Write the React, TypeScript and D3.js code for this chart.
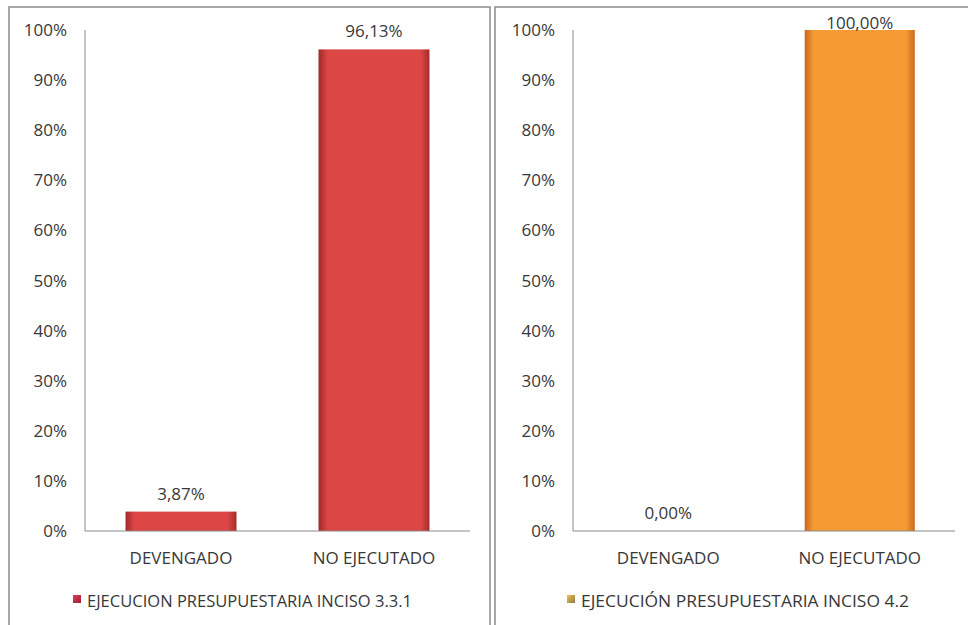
import React, { useEffect, useRef } from 'react';
import * as d3 from 'd3';

const categories = ['DEVENGADO', 'NO EJECUTADO'];
const valuesLeft = [3.87, 96.13];
const valuesRight = [0, 100];
const tickValues = [0, 10, 20, 30, 40, 50, 60, 70, 80, 90, 100];
const legendLeft = 'EJECUCION PRESUPUESTARIA INCISO 3.3.1';
const legendRight = 'EJECUCIÓN PRESUPUESTARIA INCISO 4.2';

const FONT = "'Open Sans', 'Noto Sans', sans-serif";

interface PanelCfg {
  values: number[];
  legend: string;
  x0: number;
  x1: number;
  axisX: number;
  plotRight: number;
  gradId: string;
  colors: [string, string, string];
  marker: [string, string];
  legendStart: number;
  legendWidth: number;
}

const App: React.FC = () => {
  const svgRef = useRef<SVGSVGElement>(null);

  useEffect(() => {
    if (!svgRef.current) return;
    const svg = d3.select(svgRef.current);
    svg.selectAll('*').remove();

    const top = 30;
    const bottom = 531;
    const defs = svg.append('defs');

    const panels: PanelCfg[] = [
      {
        values: valuesLeft,
        legend: legendLeft,
        x0: 9,
        x1: 490,
        axisX: 85,
        plotRight: 470,
        gradId: 'gradRed',
        colors: ['#9e2a2a', '#dc4644', '#a32c2c'],
        marker: ['#e03a55', '#9c1f35'],
        legendStart: 73,
        legendWidth: 325,
      },
      {
        values: valuesRight,
        legend: legendRight,
        x0: 495,
        x1: 975,
        axisX: 573,
        plotRight: 955,
        gradId: 'gradOrange',
        colors: ['#c8681c', '#f59a34', '#c96a1e'],
        marker: ['#f2c14a', '#8a7a4a'],
        legendStart: 567,
        legendWidth: 328,
      },
    ];

    const y = d3.scaleLinear().domain([0, 100]).range([bottom, top]);

    panels.forEach((p, pi) => {
      const grad = defs
        .append('linearGradient')
        .attr('id', p.gradId)
        .attr('x1', '0%')
        .attr('x2', '100%');
      grad.append('stop').attr('offset', '0%').attr('stop-color', p.colors[0]);
      grad.append('stop').attr('offset', '8%').attr('stop-color', p.colors[1]);
      grad.append('stop').attr('offset', '92%').attr('stop-color', p.colors[1]);
      grad.append('stop').attr('offset', '100%').attr('stop-color', p.colors[2]);

      const mg = defs
        .append('linearGradient')
        .attr('id', `marker${pi}`)
        .attr('x1', '0%')
        .attr('y1', '0%')
        .attr('x2', '100%')
        .attr('y2', '100%');
      mg.append('stop').attr('offset', '0%').attr('stop-color', p.marker[0]);
      mg.append('stop').attr('offset', '100%').attr('stop-color', p.marker[1]);

      const g = svg.append('g');

      // panel border
      g.append('rect')
        .attr('x', p.x0)
        .attr('y', 7)
        .attr('width', p.x1 - p.x0)
        .attr('height', 630)
        .attr('fill', '#fff')
        .attr('stroke', '#8c8c8c')
        .attr('stroke-width', 1.5);

      const x = d3
        .scaleBand()
        .domain(categories)
        .range([p.axisX, p.plotRight])
        .paddingInner(0.425)
        .paddingOuter(0.21);

      // y tick labels
      g.selectAll('text.tick')
        .data(tickValues)
        .enter()
        .append('text')
        .attr('class', 'tick')
        .attr('x', p.axisX - 18)
        .attr('y', (d) => y(d) + 6)
        .attr('text-anchor', 'end')
        .style('font-family', FONT)
        .style('font-size', '17px')
        .style('fill', '#383838')
        .text((d) => `${d}%`);

      g.append('line')
        .attr('x1', p.axisX)
        .attr('x2', p.axisX)
        .attr('y1', top)
        .attr('y2', bottom)
        .attr('stroke', '#8a8a8a');

      // bars
      g.selectAll('rect.bar')
        .data(p.values)
        .enter()
        .append('rect')
        .attr('class', 'bar')
        .attr('x', (_, i) => x(categories[i])!)
        .attr('y', (d) => y(d))
        .attr('width', x.bandwidth())
        .attr('height', (d) => bottom - y(d))
        .attr('fill', `url(#${p.gradId})`);

      g.append('line')
        .attr('x1', p.axisX)
        .attr('x2', p.plotRight)
        .attr('y1', bottom)
        .attr('y2', bottom)
        .attr('stroke', '#8a8a8a');

      // value labels
      g.selectAll('text.val')
        .data(p.values)
        .enter()
        .append('text')
        .attr('class', 'val')
        .attr('x', (_, i) => x(categories[i])! + x.bandwidth() / 2)
        .attr('y', (d) => y(d) - (d >= 99.5 ? 1 : 12))
        .attr('text-anchor', 'middle')
        .style('font-family', FONT)
        .style('font-size', '17px')
        .style('fill', '#383838')
        .text((d) => `${d.toFixed(2).replace('.', ',')}%`);

      // category labels
      g.selectAll('text.cat')
        .data(categories)
        .enter()
        .append('text')
        .attr('class', 'cat')
        .attr('x', (d) => x(d)! + x.bandwidth() / 2)
        .attr('y', 564)
        .attr('text-anchor', 'middle')
        .style('font-family', FONT)
        .style('font-size', '17px')
        .style('fill', '#383838')
        .text((d) => d);

      // legend
      g.append('rect')
        .attr('x', p.legendStart)
        .attr('y', 595)
        .attr('width', 8)
        .attr('height', 8)
        .attr('fill', `url(#marker${pi})`);
      g.append('text')
        .attr('x', p.legendStart + 14)
        .attr('y', 607)
        .attr('textLength', p.legendWidth)
        .attr('lengthAdjust', 'spacingAndGlyphs')
        .style('font-family', FONT)
        .style('font-size', '17px')
        .style('fill', '#383838')
        .text(p.legend);
    });
  }, []);

  return (
    <svg
      ref={svgRef}
      width={968}
      height={625}
      style={{ position: 'absolute', left: 0, top: 0, background: '#fff' }}
    />
  );
};

export default App;
